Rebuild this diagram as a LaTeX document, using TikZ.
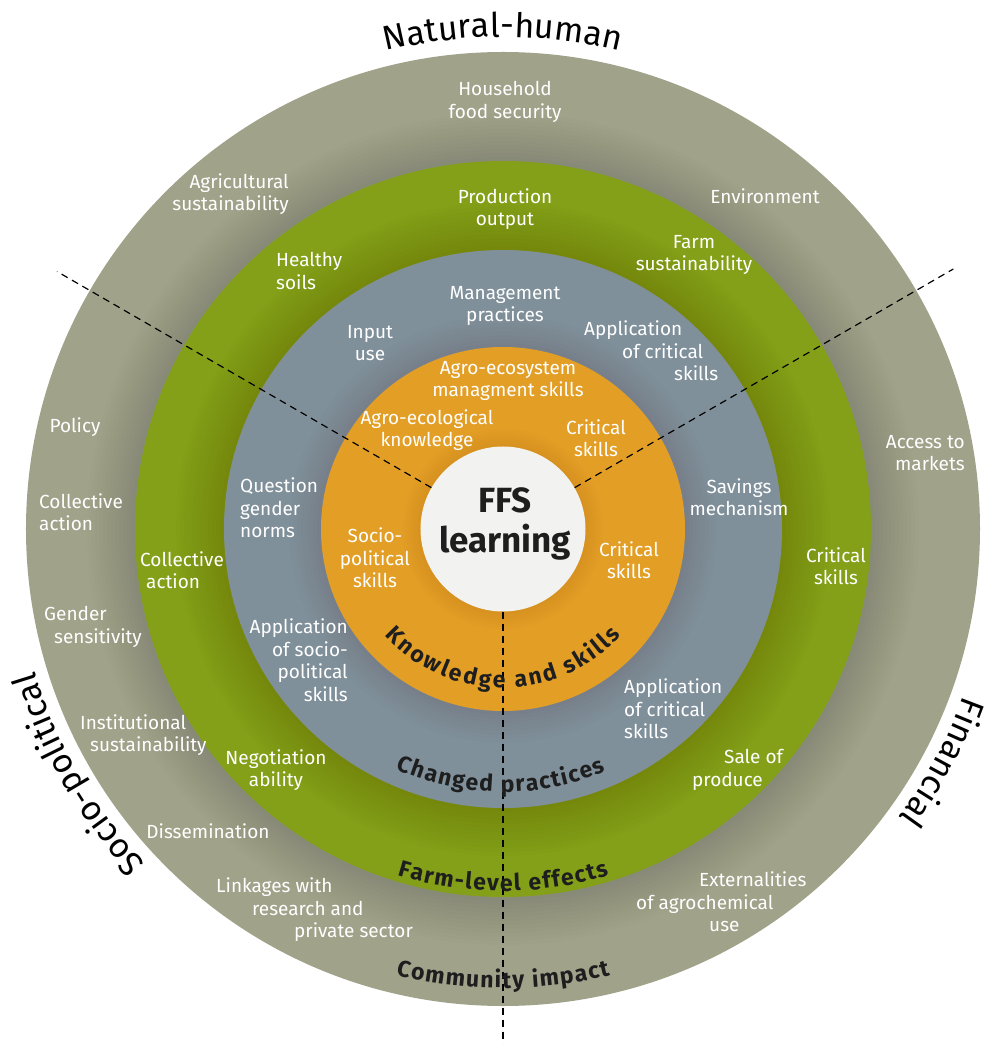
\documentclass[tikz,border=0pt]{standalone}
\usepackage{fontspec}
\setmainfont{Fira Sans}
\usetikzlibrary{decorations.text}

\definecolor{outerring}{HTML}{A0A28A}
\definecolor{farmring}{HTML}{84A018}
\definecolor{practring}{HTML}{80909A}
\definecolor{skillring}{HTML}{E39E26}
\definecolor{corefill}{HTML}{F2F2F0}
\definecolor{inkdark}{HTML}{1E1E1E}

\newcommand{\lblfont}{\fontsize{19}{22.5}\selectfont}
\newcommand{\ringfont}{\fontsize{23}{26}\selectfont\bfseries}
\newcommand{\dimfont}{\fontsize{34}{40}\selectfont}
\newcommand{\corefont}{\fontsize{35}{40}\selectfont\bfseries}

\tikzset{
  lbl/.style={text=white, font=\lblfont, inner sep=0pt, align=center},
  ringtext/.style={decorate, decoration={text along path, text align={fit to path}, text={|\ringfont\color{inkdark}|#1}}},
  dimtext/.style={decorate, decoration={text along path, text align=center, text={|\dimfont\color{black}|#1}}},
  sector/.style={dash pattern=on 7pt off 5pt, line width=1.2pt}
}

\begin{document}
\begin{tikzpicture}[x=1pt,y=1pt]
\useasboundingbox (-503,-515) rectangle (488,529);

% rings, each with a soft shadow round the next one in
\fill[outerring] (0,0) circle[radius=477];
\foreach \k in {1,...,12} \fill[black, opacity=0.006] (0,0) circle[radius=368+4*\k];
\fill[farmring] (0,0) circle[radius=368];
\foreach \k in {1,...,12} \fill[black, opacity=0.006] (0,0) circle[radius=279+4*\k];
\fill[practring] (0,0) circle[radius=279];
\foreach \k in {1,...,8} \fill[black, opacity=0.006] (0,0) circle[radius=182+4*\k];
\fill[skillring] (0,0) circle[radius=182];
\foreach \k in {1,...,6} \fill[black, opacity=0.006] (0,0) circle[radius=82.5+3*\k];

\node[circle, fill=corefill, minimum size=165pt, inner sep=0pt] (ffs) at (0,0) {};
\node[align=center, font=\corefont, text=inkdark, inner sep=0pt] (ffslabel) at (2,5) {FFS\\learning};

% sector borders
\coordinate (nwend) at (150:515);
\coordinate (neend) at (30:520);
\coordinate (send) at (270:515);
\draw[sector] (ffs.150) -- (nwend);
\draw[sector] (ffs.30) -- (neend);
\draw[sector] (ffs.270) -- (send);

% community impact
\node[lbl] (food) at (2,427) {Household\\food security};
\node[lbl, align=right, anchor=east] (agrisus) at (-214,335) {Agricultural\\sustainability};
\node[lbl] (environ) at (262,333) {Environment};
\node[lbl] (policy) at (-428,102) {Policy};
\node[lbl, align=left, anchor=west] (collout) at (-464,17) {Collective\\action};
\node[lbl, align=left, anchor=west] (gender) at (-459,-98) {Gender\\\hspace*{10pt}sensitivity};
\node[lbl, align=left, anchor=west] (instit) at (-423,-206) {Institutional\\\hspace*{10pt}sustainability};
\node[lbl] (dissem) at (-295,-302) {Dissemination};
\node[lbl, align=left, anchor=west] (linkage) at (-287,-381) {Linkages with\\\hspace*{36pt}research and\\\hspace*{78pt}private sector};
\node[lbl, align=left, anchor=west] (extern) at (133,-373) {\hspace*{63pt}Externalities\\of agrochemical\\\hspace*{73pt}use};
\node[lbl, align=right, anchor=east] (market) at (462,76) {Access to\\markets};

% farm-level effects
\node[lbl] (prod) at (2,320) {Production\\output};
\node[lbl, align=left, anchor=west] (soils) at (-227,258) {Healthy\\soils};
\node[lbl] (farmsus) at (191,274) {Farm\\sustainability};
\node[lbl, align=left, anchor=west] (collin) at (-363,-41) {Collective\\\hspace*{6pt}action};
\node[lbl] (critgreen) at (333,-37) {Critical\\skills};
\node[lbl] (negot) at (-227,-241) {Negotiation\\ability};
\node[lbl, align=left, anchor=west] (sale) at (189,-241) {\hspace*{32pt}Sale of\\produce};

% changed practices
\node[lbl] (manage) at (2,223) {Management\\practices};
\node[lbl] (inputuse) at (-133,186) {Input\\use};
\node[lbl, align=left, anchor=west] (appcritup) at (81,178) {Application\\\hspace*{38pt}of critical\\\hspace*{90pt}skills};
\node[lbl, align=left, anchor=west] (gendnorm) at (-263,21) {Question\\gender\\norms};
\node[lbl] (savings) at (236,32) {Savings\\mechanism};
\node[lbl, align=right, anchor=east] (appsoc) at (-155,-131) {Application\\of socio-\\political\\skills};
\node[lbl, align=left, anchor=west] (appcritlow) at (121,-180) {Application\\of critical\\skills};

% knowledge and skills
\node[lbl] (agroeco) at (5,148) {Agro-ecosystem\\managment skills};
\node[lbl] (agroknow) at (-76,99) {Agro-ecological\\knowledge};
\node[lbl] (critup) at (93,91) {Critical\\skills};
\node[lbl] (socpol) at (-128,-29) {Socio-\\political\\skills};
\node[lbl] (critright) at (126,-31) {Critical\\skills};

% ring titles
\path[ringtext={Knowledge and skills}] (222:159) arc[start angle=222, end angle=318, radius=159];
\path[ringtext={Changed practices}] (246:263) arc[start angle=246, end angle=293, radius=263];
\path[ringtext={Farm-level effects}] (253:362) arc[start angle=253, end angle=287, radius=362];
\path[ringtext={Community impact}] (256.5:459) arc[start angle=256.5, end angle=283.5, radius=459];

% dimensions
\path[dimtext=Natural-human] (130:492) arc[start angle=130, end angle=50, radius=492];
\path[dimtext=Socio-political] (240:490) arc[start angle=240, end angle=180, radius=490];
\path[dimtext=Financial] (2:490) arc[start angle=2, end angle=-58, radius=490];
\end{tikzpicture}
\end{document}
